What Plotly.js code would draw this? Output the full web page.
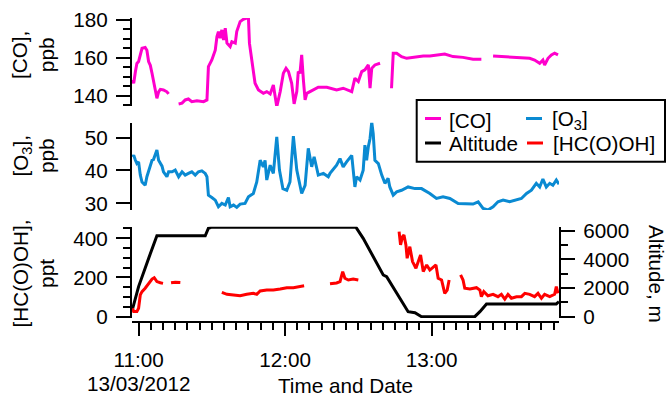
<!DOCTYPE html>
<html>
<head>
<meta charset="utf-8">
<script src="https://cdn.plot.ly/plotly-3.0.1.min.js"></script>
<style>html,body{margin:0;padding:0;background:#fff;}#chart{width:668px;height:397px;}</style>
</head>
<body>
<div id="chart"></div>
<script>
// ---- data: time in minutes after 11:00 on 13/03/2012 (null = gap) ----
const coMin = [-2.5,-2.0,-1.3,-0.7,0,0.7,1.4,2.7,3.4,4.1,4.8,5.5,6.8,7.5,8.2,8.9,10.2,11.6,12.3,null,
  16.4,17.8,19.1,20.4,21.8,23.9,26.6,28.0,28.6,30.0,31.4,32.1,32.7,33.4,34.1,34.8,35.5,36.2,37.5,38.2,39.6,40.2,41.6,42.9,44.3,45.0,45.4,46.4,47.7,49.1,51.1,52.5,53.9,55.2,56.6,58.0,59.3,60.4,61.4,62.7,63.7,64.8,65.4,66.1,66.8,67.5,68.2,68.9,70.2,71.6,73.6,77.1,78.4,81.1,83.8,85.9,87.3,88.6,90.0,91.4,92.7,94.1,94.8,95.5,96.8,98.9,null,
  103.6,104.3,105.7,107.7,109.8,112.5,116.6,119.3,125.4,128.8,132.9,137.0,140.4,null,
  145.2,149.3,154.8,160.2,162.2,164.3,165.6,166.3,167.7,169.1,170.4,171.8];
const coPpb = [148.3,146.5,152.7,157,158,162.4,165,165.4,164,158,156,151.8,143.9,138.6,142,143.3,143,142,140.9,null,
  135.6,136,137.7,138.2,136.8,137.3,136.8,137.7,155.3,158.8,164,171.2,173.8,170.3,174.7,169.4,175.6,167.7,165.9,168.5,167.7,173.8,179.1,180.3,180.9,181,167.7,158.8,146.5,143,141.2,142.1,140.9,145.6,134.1,142.1,151.8,154.4,152.7,146.5,135.6,142.1,152.7,151.8,161.5,148.3,137.7,141.2,142,143,144.4,144.4,143.9,143,143.9,143,142.1,149.2,147.4,152.7,153.6,156.2,143.9,154.4,156.2,157.1,null,
  143.9,162.4,162.4,160.6,159.7,160.2,160.9,160.9,162,160.6,160.2,159.2,159.2,null,
  160.9,160.6,160.2,159.7,158.8,157.1,158.8,156.2,159.7,161.5,162.4,161.5];

const o3Min = [-2.5,-2.0,-1.3,-0.7,0,0.7,1.4,2.7,3.4,4.1,4.8,5.5,6.1,6.8,7.5,8.2,8.9,9.6,10.2,11.6,12.3,13.7,15.0,16.4,17.8,19.1,20.4,21.8,23.2,24.5,25.9,27.3,28.0,28.6,30.0,31.4,32.7,34.1,35.5,36.8,37.5,38.9,40.2,41.6,43.6,45.0,47.0,48.4,49.8,51.1,51.8,52.5,53.9,55.2,56.6,57.7,59.1,60.7,62.0,63.4,64.8,66.1,66.8,68.2,69.5,70.9,71.9,73.0,73.6,75.7,77.7,78.4,79.8,81.1,82.5,83.8,85.2,86.6,87.3,88.6,89.3,90.7,92.0,92.7,93.4,94.1,94.8,95.5,96.1,96.8,98.2,99.6,100.9,102.2,102.9,104.3,105.7,107.7,110.4,113.2,115.9,119.3,122.0,124.7,127.5,130.9,134.3,137.0,139.1,141.1,143.1,145.2,147.2,149.3,152.0,154.8,156.8,158.9,160.9,162.9,164.3,165.6,167.0,168.4,169.7,171.1,172.2];
const o3Ppb = [44.1,44.6,43.1,42.1,42.6,38.6,36.5,35.5,38.1,39.6,41.6,43.1,43.3,44.6,46.2,43.1,42.1,41.3,39.6,38.1,39.6,39.6,40.1,38.1,39.6,38.6,39.1,39.6,38.6,39.6,39.9,39.1,38.1,32.5,31.8,31,29,30,29.5,31.8,29,29.5,28.8,29.8,30,32,33,36.5,43.1,41.1,43.1,37.1,41.6,39.1,50.2,40.1,34.5,34,36.5,50.4,40.1,35,33,35.5,46.7,41.1,44.1,40.6,38.6,39.1,38.1,39.1,40.6,41.6,43.6,41.1,42.6,44.1,44.6,35,38.1,37.1,40.1,47.7,43.1,47.2,49.7,54.7,51.2,43.1,42.1,38.6,36.1,37.6,35,32.5,33.5,34,35,34.5,34.5,33,31.5,32,31.5,30,30,29.8,30.5,28.5,28,29,30.5,31,30.5,31,31.5,33,34,36.1,35,37.4,35,36.1,35.5,37.1,35.8];

const altMin = [-2.7,0,4.8,7.5,27.3,28.6,30.0,89.0,92.0,100.2,101.6,110.4,113.2,115.9,137.7,139.8,142.5,171.1,172.2];
const altM   = [400,2100,4400,5650,5650,6170,6250,6250,5470,2910,2790,350,280,0,0,350,890,890,1050];

const hcMin = [-2.5,-2.0,-0.7,0,0.7,1.4,2.7,4.1,5.5,6.4,7.5,8.9,10.0,null,
  13.3,15.0,17.1,null,
  34.1,36.2,38.9,41.6,44.3,47.0,48.4,49.8,52.5,55.2,58.0,60.7,63.4,66.1,67.8,null,
  78.4,81.1,82.5,83.6,84.5,85.9,87.9,90.0,null,
  106.7,107.3,108.1,108.7,109.5,110.0,111.1,112.2,113.6,114.5,115.5,116.6,118.0,119.3,120.7,121.8,122.7,124.1,125.4,126.4,127.2,null,
  131.9,132.9,133.6,135.7,138.4,139.8,140.4,141.4,143.1,145.2,147.2,148.6,150.0,151.3,152.7,154.8,156.8,158.2,160.2,162.2,163.6,165.0,166.3,168.4,170.4,171.1,171.8];
const hcPpt = [43,26,26,43,111,128,145,170,192,199,179,173,170,null,
  173,176,174,null,
  124,114,111,107,114,119,114,131,136,136,141,148,148,153,158,null,
  168,172,179,230,196,187,192,187,null,
  434,366,408,417,366,298,357,281,247,281,315,230,264,238,255,264,196,187,119,136,187,null,
  213,187,145,141,148,136,102,128,107,114,102,114,90,114,94,102,102,119,114,102,119,94,114,102,114,153,119];

const xTickMin = [0, 60, 120];
const xTickText = ['11:00', '12:00', '13:00'];
const dateLabel = '13/03/2012';

// ---- helpers ----
const base = Date.UTC(2012, 2, 13, 11, 0, 0);
function toDate(m) {
  if (m === null) return null;
  return new Date(base + m * 60000).toISOString().replace('T', ' ').replace('Z', '');
}
const FONT = 'Liberation Sans, Arial, Helvetica, sans-serif';
const FS = 20.7;
const L = 132, R = 559, T = 18, B = 322; // plot area in px
const px = x => (x - L) / (R - L);
const py = y => (B - y) / (B - T);

const traces = [
  {name: '[CO]', x: coMin.map(toDate), y: coPpb, xaxis: 'x', yaxis: 'y', type: 'scatter', mode: 'lines',
   line: {color: '#ff00cc', width: 3}, connectgaps: false},
  {name: '[O<sub>3</sub>]', x: o3Min.map(toDate), y: o3Ppb, xaxis: 'x', yaxis: 'y2', type: 'scatter', mode: 'lines',
   line: {color: '#0a8ad2', width: 3}},
  {name: 'Altitude', x: altMin.map(toDate), y: altM, xaxis: 'x', yaxis: 'y3', type: 'scatter', mode: 'lines',
   line: {color: '#000000', width: 3}},
  {name: '[HC(O)OH]', x: hcMin.map(toDate), y: hcPpt, xaxis: 'x', yaxis: 'y4', type: 'scatter', mode: 'lines',
   line: {color: '#ff0000', width: 3}, connectgaps: false}
];

const yCommon = {
  anchor: 'x', showgrid: false, zeroline: false, showline: true, linecolor: '#000', linewidth: 2,
  ticks: 'outside', ticklen: 14, tickwidth: 2, tickcolor: '#000', tickmode: 'array',
  tickfont: {family: FONT, size: FS, color: '#000'}, ticklabelstandoff: 4, fixedrange: true
};
const minorY = d => ({dtick: d, ticks: 'outside', ticklen: 7, tickwidth: 2, tickcolor: '#000', showgrid: false});

const layout = {
  width: 668, height: 397, autosize: false,
  margin: {l: L, r: 668 - R, t: T, b: 397 - B, pad: 0},
  paper_bgcolor: '#fff', plot_bgcolor: 'rgba(0,0,0,0)',
  showlegend: false,
  font: {family: FONT, size: FS, color: '#000'},
  xaxis: {
    type: 'date', domain: [0, 1], anchor: 'free', position: 0,
    range: [toDate(-2.7), toDate(172.2)],
    tickmode: 'array', tickvals: xTickMin.map(toDate), ticktext: xTickText,
    ticks: 'outside', ticklen: 13, tickwidth: 2, tickcolor: '#000',
    showline: true, linecolor: '#000', linewidth: 2, showgrid: false, zeroline: false,
    tickfont: {family: FONT, size: FS, color: '#000'}, ticklabelstandoff: 6,
    minor: {dtick: 300000, tick0: toDate(0), ticks: 'outside', ticklen: 7, tickwidth: 2, tickcolor: '#000', showgrid: false},
    fixedrange: true
  },
  yaxis: Object.assign({}, yCommon, {domain: [0.7105, 1], range: [134.5, 181], tickvals: [140, 160, 180], minor: minorY(5)}),
  yaxis2: Object.assign({}, yCommon, {domain: [0.3684, 0.6556], range: [28, 54.5], tickvals: [30, 40, 50]}),
  yaxis3: Object.assign({}, yCommon, {domain: [0.0132, 0.3135], side: 'right', range: [-91, 6280], tickvals: [0, 2000, 4000, 6000], minor: minorY(1000)}),
  yaxis4: Object.assign({}, yCommon, {overlaying: 'y3', side: 'left', range: [-6.6, 459], tickvals: [0, 200, 400], minor: minorY(50)}),
  shapes: [
    {type: 'rect', xref: 'paper', yref: 'paper', x0: px(416.7), x1: px(665), y0: py(161.7), y1: py(100),
     line: {color: '#000', width: 2}, fillcolor: '#fff', layer: 'above'},
    {type: 'line', xref: 'paper', yref: 'paper', x0: px(425), x1: px(441), y0: py(118.5), y1: py(118.5), line: {color: '#ff00cc', width: 3}},
    {type: 'line', xref: 'paper', yref: 'paper', x0: px(526), x1: px(542), y0: py(118.5), y1: py(118.5), line: {color: '#0a8ad2', width: 3}},
    {type: 'line', xref: 'paper', yref: 'paper', x0: px(425), x1: px(441), y0: py(143), y1: py(143), line: {color: '#000', width: 3}},
    {type: 'line', xref: 'paper', yref: 'paper', x0: px(527), x1: px(543), y0: py(143), y1: py(143), line: {color: '#ff0000', width: 3}}
  ],
  annotations: [
    {text: '[CO],<br>ppb', xref: 'paper', yref: 'paper', x: px(33.5), y: py(55.5), textangle: -90, showarrow: false, xanchor: 'center', yanchor: 'middle', align: 'center', font: {size: FS}},
    {text: '[O<sub>3</sub>],<br>ppb', xref: 'paper', yref: 'paper', x: px(33.5), y: py(156), textangle: -90, showarrow: false, xanchor: 'center', yanchor: 'middle', align: 'center', font: {size: FS}},
    {text: '[HC(O)OH],<br>ppt', xref: 'paper', yref: 'paper', x: px(33.5), y: py(274), textangle: -90, showarrow: false, xanchor: 'center', yanchor: 'middle', align: 'center', font: {size: FS}},
    {text: 'Altitude, m', xref: 'paper', yref: 'paper', x: px(657), y: py(274), textangle: 90, showarrow: false, xanchor: 'center', yanchor: 'middle', font: {size: FS}},
    {text: dateLabel, xref: 'x', yref: 'paper', x: toDate(0), y: py(371), showarrow: false, xanchor: 'center', yanchor: 'top', borderpad: 0, font: {size: FS}},
    {text: 'Time and Date', xref: 'paper', yref: 'paper', x: px(345.5), y: py(385), showarrow: false, xanchor: 'center', yanchor: 'middle', font: {size: FS}},
    {text: '[CO]', xref: 'paper', yref: 'paper', x: px(447.3), y: py(120), showarrow: false, xanchor: 'left', yanchor: 'middle', font: {size: FS}},
    {text: '[O<sub>3</sub>]', xref: 'paper', yref: 'paper', x: px(549.7), y: py(120), showarrow: false, xanchor: 'left', yanchor: 'middle', font: {size: FS}},
    {text: 'Altitude', xref: 'paper', yref: 'paper', x: px(447.3), y: py(143.5), showarrow: false, xanchor: 'left', yanchor: 'middle', font: {size: FS}},
    {text: '[HC(O)OH]', xref: 'paper', yref: 'paper', x: px(551.3), y: py(143.5), showarrow: false, xanchor: 'left', yanchor: 'middle', font: {size: FS}}
  ]
};

Plotly.newPlot('chart', traces, layout, {displayModeBar: false, staticPlot: true});
</script>
</body>
</html>
